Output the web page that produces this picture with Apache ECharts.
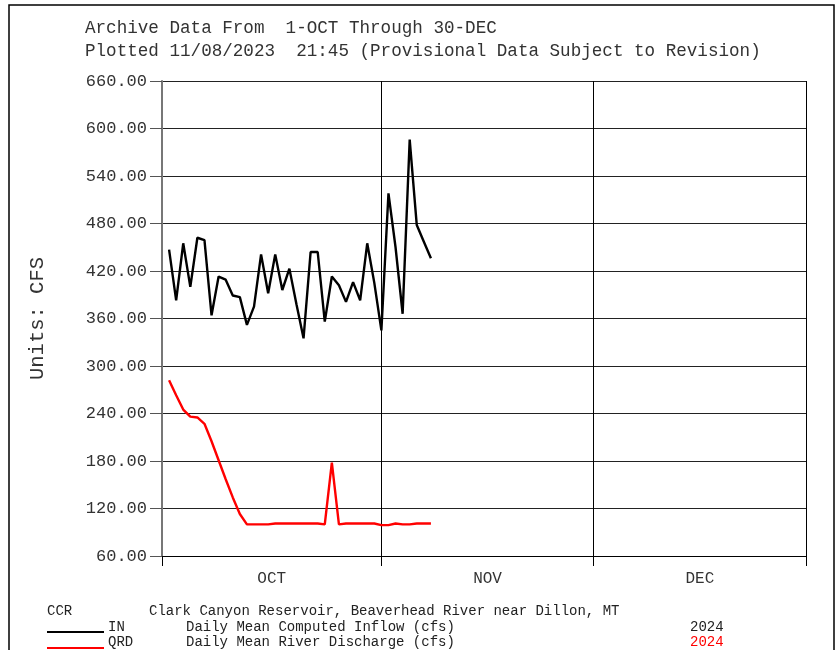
<!DOCTYPE html>
<html>
<head>
<meta charset="utf-8">
<title>Clark Canyon Reservoir</title>
<script src="https://cdn.jsdelivr.net/npm/echarts@6/dist/echarts.min.js"></script>
<style>
  html, body { margin: 0; padding: 0; background: #fff; }
  #chart { width: 838px; height: 650px; }
</style>
</head>
<body>
<div id="chart"></div>
<script>
// day number counted from 1-OCT (1 = Oct 1, 32 = Nov 1)
const days = [1, 2, 3, 4, 5, 6, 7, 8, 9, 10, 11, 12, 13, 14, 15, 16, 17, 18, 19,
  20, 21, 22, 23, 24, 25, 26, 27, 28, 29, 30, 31, 32, 33, 34, 35, 36, 37, 38];

// IN - daily mean computed inflow (cfs)
const inflow = [447, 383, 455, 400, 462, 459, 364, 413, 409, 389, 387, 352, 375,
  441, 392, 441, 396, 423, 378, 335, 444, 444, 356, 413, 402, 381, 406, 383, 455,
  405, 345, 518, 450, 366, 586, 478, 457, 436];

// QRD - daily mean river discharge (cfs)
const discharge = [282, 263, 245, 236, 235, 227, 205, 181, 157, 134, 113, 100, 100,
  100, 100, 101, 101, 101, 101, 101, 101, 101, 100, 178, 100, 101, 101, 101, 101,
  101, 99, 99, 101, 100, 100, 101, 101, 101];

// month boundaries (day offsets) and label positions
const monthEdges = [0, 31, 61, 91];
const monthNames = ["OCT", "NOV", "DEC"];
const monthMids = [15.5, 46, 76];

const yTicks = { min: 60, max: 660, step: 60 };

const font = "'Liberation Mono', 'DejaVu Sans Mono', monospace";
const textColor = "#333";

const chart = echarts.init(document.getElementById("chart"));

const option = {
  animation: false,
  backgroundColor: "#fff",
  grid: { left: 162, top: 81, width: 644, height: 475 },
  xAxis: {
    type: "value",
    min: monthEdges[0],
    max: monthEdges[monthEdges.length - 1],
    axisLine: { show: true, lineStyle: { color: "#000", width: 1 } },
    axisTick: {
      show: true,
      customValues: monthEdges,
      length: 10,
      lineStyle: { color: "#000", width: 1 },
    },
    axisLabel: {
      customValues: monthMids,
      formatter: (v) => monthNames[monthMids.indexOf(v)] || "",
      color: textColor,
      fontFamily: font,
      fontSize: 16,
      margin: 15,
    },
    splitLine: { show: true, lineStyle: { color: "#000", width: 1 } },
  },
  yAxis: {
    type: "value",
    min: yTicks.min,
    max: yTicks.max,
    interval: yTicks.step,
    name: "Units: CFS",
    nameLocation: "middle",
    nameRotate: 90,
    nameGap: 114,
    nameTextStyle: { color: textColor, fontFamily: font, fontSize: 20.5 },
    axisLine: { show: true, lineStyle: { color: "#777", width: 2 } },
    axisTick: { show: true, length: 12, lineStyle: { color: "#555" } },
    axisLabel: {
      formatter: (v) => v.toFixed(2),
      color: textColor,
      fontFamily: font,
      fontSize: 17,
      margin: 15,
    },
    splitLine: { show: true, lineStyle: { color: "#222", width: 1 } },
  },
  graphic: [
    {
      type: "rect",
      shape: { x: 9, y: 5, width: 825, height: 700 },
      style: { fill: null, stroke: "#000", lineWidth: 1.5 },
      silent: true,
    },
    {
      type: "text", left: 85, top: 19,
      style: { text: "Archive Data From  1-OCT Through 30-DEC", fill: textColor, font: "17.6px " + font },
    },
    {
      type: "text", left: 85, top: 42,
      style: { text: "Plotted 11/08/2023  21:45 (Provisional Data Subject to Revision)", fill: textColor, font: "17.6px " + font },
    },
    {
      type: "text", left: 47, top: 604,
      style: { text: "CCR", fill: "#222", font: "14px " + font },
    },
    {
      type: "text", left: 149, top: 604,
      style: { text: "Clark Canyon Reservoir, Beaverhead River near Dillon, MT", fill: "#222", font: "14px " + font },
    },
    {
      type: "line", shape: { x1: 47, y1: 632, x2: 104, y2: 632 },
      style: { stroke: "#000", lineWidth: 2 },
    },
    {
      type: "text", left: 108, top: 620,
      style: { text: "IN", fill: "#222", font: "14px " + font },
    },
    {
      type: "text", left: 186, top: 620,
      style: { text: "Daily Mean Computed Inflow (cfs)", fill: "#222", font: "14px " + font },
    },
    {
      type: "text", left: 690, top: 620,
      style: { text: "2024", fill: "#222", font: "14px " + font },
    },
    {
      type: "line", shape: { x1: 47, y1: 648, x2: 104, y2: 648 },
      style: { stroke: "#f00", lineWidth: 2 },
    },
    {
      type: "text", left: 108, top: 635,
      style: { text: "QRD", fill: "#222", font: "14px " + font },
    },
    {
      type: "text", left: 186, top: 635,
      style: { text: "Daily Mean River Discharge (cfs)", fill: "#222", font: "14px " + font },
    },
    {
      type: "text", left: 690, top: 635,
      style: { text: "2024", fill: "#f00", font: "14px " + font },
    },
  ],
  series: [
    {
      name: "IN",
      type: "line",
      data: days.map((d, i) => [d, inflow[i]]),
      showSymbol: false,
      lineStyle: { color: "#000", width: 2.4 },
      z: 3,
    },
    {
      name: "QRD",
      type: "line",
      data: days.map((d, i) => [d, discharge[i]]),
      showSymbol: false,
      lineStyle: { color: "#f00", width: 2.4 },
      z: 3,
    },
  ],
};

chart.setOption(option);
</script>
</body>
</html>
